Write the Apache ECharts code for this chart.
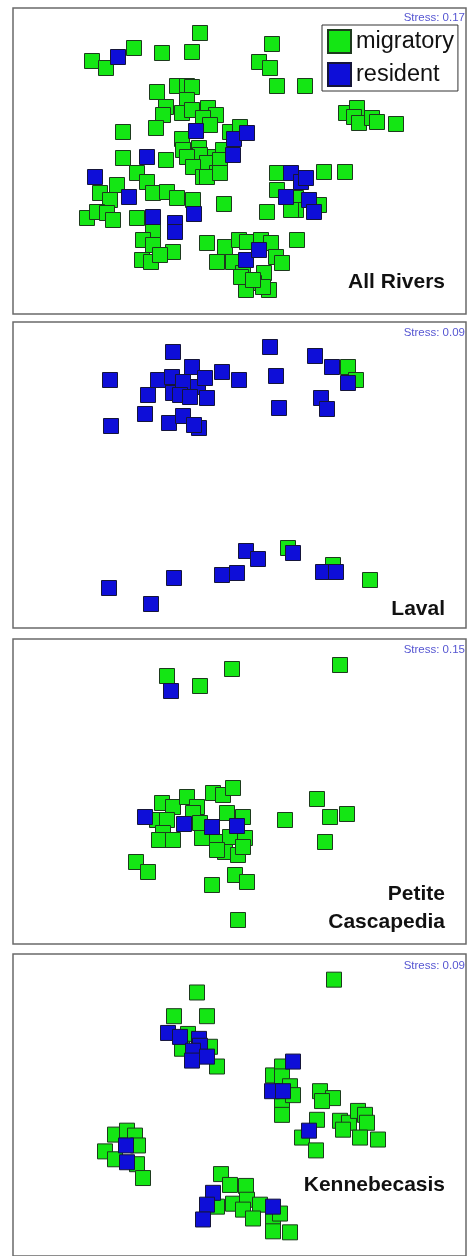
<!DOCTYPE html>
<html>
<head>
<meta charset="utf-8">
<script src="https://cdn.jsdelivr.net/npm/echarts@6/dist/echarts.min.js"></script>
<style>
  body { margin: 0; background: #fff; }
  #chart { width: 468px; height: 1256px; }
</style>
</head>
<body>
<div id="chart"></div>
<script>
const allRiversMigratory = [
  [79,53],[93,60],[121,40],[149,45],[179,44],[187,25],[259,36],[246,54],[257,60],[264,78],[292,78],
  [333,105],[344,100],[341,109],[346,115],[359,110],[364,114],[383,116],
  [144,84],[164,78],[174,78],[179,79],[174,92],[153,99],[150,107],[169,105],[179,102],[195,100],
  [203,107],[190,110],[197,117],[143,120],[110,124],[169,131],[186,140],[170,142],[199,149],
  [217,124],[227,119],[210,142],[187,147],[174,149],[110,150],[153,152],[194,155],[207,152],
  [180,159],[190,169],[204,165],[124,165],[134,174],[140,185],[154,184],[164,190],[180,192],
  [104,177],[87,185],[97,192],[74,210],[84,204],[94,205],[100,212],[124,210],[140,222],[130,232],
  [140,237],[160,244],[129,252],[138,254],[147,247],[211,196],[194,169],[207,165],
  [264,165],[311,164],[332,164],[264,182],[283,190],[306,197],[283,202],[278,202],[254,204],
  [194,235],[212,239],[226,232],[234,234],[248,232],[258,235],[204,254],[220,254],[263,249],
  [269,255],[251,265],[230,265],[241,275],[233,282],[256,282],[250,279],[228,269],[284,232],[240,272]
];
const allRiversResident = [
  [105,49],[183,123],[221,131],[234,125],[220,147],[134,149],[82,169],[116,189],[140,209],
  [162,215],[162,224],[181,206],[278,165],[288,174],[293,170],[273,189],[296,192],[301,204],
  [233,252],[246,242]
];
const lavalMigratory = [[335,45],[343,58],[275,226],[320,243],[357,258]];
const lavalResident = [
  [97,58],[160,30],[98,104],[132,92],[156,101],[170,94],[186,106],[181,103],[135,73],[145,58],
  [159,55],[160,71],[170,60],[179,45],[185,65],[192,56],[194,76],[167,73],[177,75],[209,50],
  [226,58],[257,25],[263,54],[266,86],[302,34],[319,45],[308,76],[314,87],[335,61],
  [96,266],[138,282],[161,256],[209,253],[224,251],[233,229],[245,237],[280,231],[310,250],[323,250]
];
const petiteMigratory = [
  [154,37],[187,47],[219,30],[327,26],[149,164],[160,168],[174,158],[184,168],[200,154],[210,156],
  [220,149],[144,181],[154,181],[150,194],[146,201],[160,201],[180,174],[187,184],[189,199],
  [204,203],[214,174],[217,198],[230,178],[232,199],[212,213],[225,216],[230,208],[204,211],
  [272,181],[304,160],[317,178],[334,175],[312,203],[123,223],[135,233],[199,246],[222,236],
  [234,243],[225,281]
];
const petiteResident = [[158,52],[132,178],[171,185],[199,188],[224,187]];
const kennMigratory = [
  [321,26],[184,39],[161,63],[194,63],[175,81],[197,94],[169,96],[204,114],[260,123],[269,114],
  [269,124],[277,134],[307,139],[320,146],[269,154],[269,163],[280,143],[309,149],[304,168],
  [289,186],[303,199],[327,169],[336,171],[345,159],[352,163],[354,171],[347,186],[365,188],
  [330,178],[102,183],[114,179],[122,184],[125,194],[92,200],[102,208],[124,213],[130,227],
  [208,223],[217,234],[233,235],[220,253],[234,249],[247,254],[204,256],[230,259],[240,268],
  [260,269],[260,281],[277,282],[267,263]
];
const kennResident = [
  [155,80],[167,84],[186,86],[187,93],[180,98],[194,104],[179,108],[280,109],[259,139],[270,139],
  [296,179],[113,194],[114,211],[200,242],[194,254],[190,269],[260,256]
];

const panelNames = [['All Rivers'], ['Laval'], ['Petite', 'Cascapedia'], ['Kennebecasis']];
const stressLabels = ['Stress: 0.17', 'Stress: 0.09', 'Stress: 0.15', 'Stress: 0.09'];
const panels = [
  [allRiversMigratory, allRiversResident],
  [lavalMigratory, lavalResident],
  [petiteMigratory, petiteResident],
  [kennMigratory, kennResident]
];

const gridTops = [8, 322, 639, 954];
const gridHeights = [306, 306, 305, 306];
const nameTops = [[272], [599], [884, 912], [1175]];
const stressTops = [12, 327, 644, 960];

const green = '#14e614';
const blue = '#0e0ed8';
const font = 'Liberation Sans, Arial, sans-serif';

const grids = [], xAxes = [], yAxes = [], series = [], titles = [];
panels.forEach((p, i) => {
  grids.push({
    left: 13, top: gridTops[i], width: 453, height: gridHeights[i],
    show: true, borderColor: '#6a6a6a', borderWidth: 1.5, backgroundColor: '#fff'
  });
  xAxes.push({ type: 'value', gridIndex: i, min: 0, max: 453, show: false });
  yAxes.push({ type: 'value', gridIndex: i, min: 0, max: gridHeights[i], inverse: true, show: false });
  series.push({
    name: 'migratory', type: 'scatter', xAxisIndex: i, yAxisIndex: i,
    symbol: 'rect', symbolSize: 15, data: p[0],
    itemStyle: { color: green, borderColor: '#1d3a1d', borderWidth: 1, opacity: 1 }
  });
  series.push({
    name: 'resident', type: 'scatter', xAxisIndex: i, yAxisIndex: i,
    symbol: 'rect', symbolSize: 15, data: p[1],
    itemStyle: { color: blue, borderColor: '#15153a', borderWidth: 1, opacity: 1 }
  });
  titles.push({
    text: stressLabels[i], right: 3, top: stressTops[i], padding: 0,
    textStyle: { fontSize: 11.5, fontWeight: 'normal', color: '#5656d2', fontFamily: font }
  });
  panelNames[i].forEach((n, k) => {
    titles.push({
      text: n, right: 23, top: nameTops[i][k], padding: 0,
      textStyle: { fontSize: 21, fontWeight: 'bold', color: '#111', fontFamily: font }
    });
  });
});

const chart = echarts.init(document.getElementById('chart'), null, { renderer: 'canvas' });
chart.setOption({
  animation: false,
  backgroundColor: '#fff',
  title: titles,
  legend: {
    data: ['migratory', 'resident'],
    orient: 'vertical',
    left: 322, top: 25,
    padding: [4, 4, 4, 5],
    itemGap: 8,
    itemWidth: 23, itemHeight: 23,
    icon: 'rect',
    borderColor: '#333', borderWidth: 1,
    backgroundColor: '#fff',
    selectedMode: false,
    textStyle: { fontSize: 23.5, lineHeight: 23, color: '#111', fontFamily: font }
  },
  grid: grids,
  xAxis: xAxes,
  yAxis: yAxes,
  series: series
});
</script>
</body>
</html>
